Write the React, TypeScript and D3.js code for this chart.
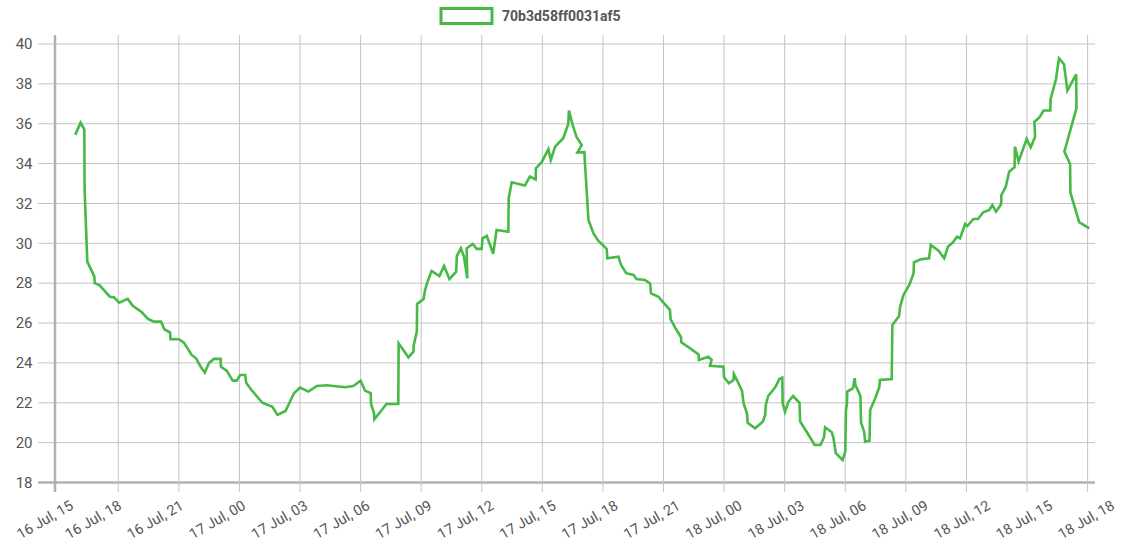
import React from "react";
import * as d3 from "d3";

const SERIES_NAME = "70b3d58ff0031af5";

// timestamps ("day HH:MM", July)
const times: string[] = [
  "16 15:52","16 16:08","16 16:19","16 16:20","16 16:28","16 16:49","16 16:50","16 17:04","16 17:35","16 17:47",
  "16 18:03","16 18:28","16 18:43","16 19:10","16 19:29","16 19:46","16 20:07","16 20:17","16 20:34","16 20:35",
  "16 21:00","16 21:15","16 21:38","16 21:51","16 22:05","16 22:17","16 22:29","16 22:44","16 23:04","16 23:05",
  "16 23:22","16 23:40","16 23:52","17 00:02","17 00:17","17 00:20","17 00:34","17 01:08","17 01:38","17 01:53",
  "17 02:17","17 02:42","17 03:00","17 03:25","17 03:50","17 04:19","17 05:14","17 05:38","17 06:00","17 06:13",
  "17 06:30","17 06:31","17 06:40","17 06:41","17 07:17","17 07:52","17 07:53","17 08:22","17 08:37","17 08:38",
  "17 08:47","17 08:48","17 09:07","17 09:11","17 09:19","17 09:31","17 09:54","17 10:08","17 10:24","17 10:44",
  "17 10:46","17 10:58","17 11:07","17 11:17","17 11:15","17 11:33","17 11:45","17 12:00","17 12:02","17 12:15",
  "17 12:34","17 12:44","17 13:19","17 13:20","17 13:29","17 14:08","17 14:23","17 14:40","17 14:41","17 14:58",
  "17 15:18","17 15:25","17 15:38","17 16:02","17 16:17","17 16:19","17 16:30","17 16:42","17 16:57","17 16:44",
  "17 17:05","17 17:06","17 17:17","17 17:32","17 17:46","17 18:11","17 18:13","17 18:46","17 18:54","17 19:09",
  "17 19:31","17 19:40","17 20:05","17 20:20","17 20:23","17 20:45","17 20:59","17 21:19","17 21:21","17 21:37",
  "17 21:52","17 21:53","17 22:19","17 22:44","17 22:45","17 23:13","17 23:23","17 23:18","17 23:58","18 00:00",
  "18 00:14","18 00:28","18 00:29","18 00:38","18 00:53","18 00:58","18 01:08","18 01:10","18 01:32","18 01:55",
  "18 02:02","18 02:04","18 02:11","18 02:32","18 02:44","18 02:53","18 02:54","18 03:01","18 03:11","18 03:25",
  "18 03:44","18 03:46","18 04:08","18 04:29","18 04:46","18 04:57","18 05:00","18 05:20","18 05:25","18 05:32",
  "18 05:52","18 06:00","18 06:02","18 06:05","18 06:06","18 06:23","18 06:28","18 06:30","18 06:45","18 06:47",
  "18 06:56","18 06:59","18 07:12","18 07:14","18 07:29","18 07:41","18 07:43","18 08:18","18 08:20","18 08:40",
  "18 08:43","18 08:53","18 09:11","18 09:23","18 09:24","18 09:44","18 10:09","18 10:14","18 10:37","18 10:54",
  "18 11:05","18 11:20","18 11:32","18 11:41","18 11:56","18 12:03","18 12:21","18 12:34","18 12:50","18 13:08",
  "18 13:17","18 13:28","18 13:43","18 13:44","18 13:57","18 14:07","18 14:23","18 14:24","18 14:35","18 14:59",
  "18 15:11","18 15:24","18 15:22","18 15:37","18 15:49","18 16:09","18 16:10","18 16:26","18 16:35","18 16:50",
  "18 17:00","18 17:26","18 17:27","18 16:51","18 17:08","18 17:09","18 17:35","18 18:05"
];

const values: number[] = [
  35.44,36.05,35.72,32.68,29.08,28.33,28.0,27.9,27.32,27.29,
  27.02,27.21,26.87,26.54,26.2,26.07,26.07,25.69,25.52,25.19,
  25.19,25.02,24.4,24.23,23.81,23.51,23.98,24.2,24.2,23.81,
  23.61,23.11,23.11,23.39,23.39,23.01,22.68,22.0,21.8,21.39,
  21.59,22.48,22.76,22.56,22.84,22.88,22.78,22.84,23.11,22.61,
  22.48,21.94,21.47,21.17,21.94,21.94,24.98,24.28,24.56,24.9,
  25.57,26.96,27.21,27.62,28.08,28.61,28.36,28.86,28.2,28.58,
  29.37,29.75,29.33,28.25,29.75,29.97,29.72,29.72,30.25,30.37,
  29.47,30.67,30.58,32.26,33.06,32.9,33.35,33.21,33.76,34.07,
  34.73,34.18,34.85,35.27,35.99,36.66,35.94,35.32,34.93,34.55,
  34.57,34.18,31.17,30.5,30.13,29.72,29.25,29.33,28.91,28.5,
  28.41,28.21,28.16,27.99,27.49,27.32,27.04,26.66,26.2,25.7,
  25.29,25.03,24.73,24.43,24.15,24.31,24.15,23.86,23.81,23.28,
  22.98,23.14,23.44,23.14,22.61,21.97,21.47,21.0,20.72,21.05,
  21.39,21.89,22.34,22.78,23.19,23.26,21.97,21.55,22.05,22.34,
  22.0,21.05,20.47,19.88,19.88,20.27,20.77,20.52,20.22,19.47,
  19.13,19.55,21.6,21.97,22.56,22.73,23.23,22.9,22.34,21.0,
  20.55,20.05,20.1,21.64,22.22,22.78,23.14,23.19,25.9,26.35,
  26.82,27.41,27.94,28.5,29.05,29.2,29.25,29.92,29.63,29.25,
  29.83,30.05,30.33,30.25,30.97,30.87,31.22,31.22,31.56,31.67,
  31.92,31.59,31.96,32.43,32.84,33.59,33.82,34.85,34.1,35.24,
  34.82,35.35,36.1,36.32,36.66,36.66,37.23,38.23,39.28,38.98,
  37.66,38.48,36.78,34.6,33.98,32.54,31.06,30.75
];

const yTicks: number[] = [18, 20, 22, 24, 26, 28, 30, 32, 34, 36, 38, 40];

const xTickTimes: string[] = [
  "16 14:52","16 18:00","16 21:00","17 00:00","17 03:00","17 06:00","17 09:00","17 12:00","17 15:00",
  "17 18:00","17 21:00","18 00:00","18 03:00","18 06:00","18 09:00","18 12:00","18 15:00","18 18:00"
];
const xLabelTimes: string[] = [
  "16 15:40","16 18:00","16 21:00","17 00:00","17 03:00","17 06:00","17 09:00","17 12:00","17 15:00",
  "17 18:00","17 21:00","18 00:00","18 03:00","18 06:00","18 09:00","18 12:00","18 15:00","18 18:00"
];
const xTickLabels: string[] = [
  "16 Jul, 15","16 Jul, 18","16 Jul, 21","17 Jul, 00","17 Jul, 03","17 Jul, 06","17 Jul, 09","17 Jul, 12","17 Jul, 15",
  "17 Jul, 18","17 Jul, 21","18 Jul, 00","18 Jul, 03","18 Jul, 06","18 Jul, 09","18 Jul, 12","18 Jul, 15","18 Jul, 18"
];
const xDomain: string[] = ["16 14:52", "18 18:22"];
const labelDomain: string[] = ["16 18:00", "18 18:00"];

const parse = (s: string) => {
  const [d, hm] = s.split(" ");
  const [h, m] = hm.split(":").map(Number);
  return new Date(2018, 6, Number(d), h, m);
};

export default function App() {
  const W = 1121, H = 547;
  const left = 55, right = 1095, top = 44, bottom = 482.5;
  const x = d3.scaleTime().domain(xDomain.map(parse)).range([left, right]);
  const xLab = d3.scaleTime().domain(labelDomain.map(parse)).range([120, 1113]);
  const y = d3.scaleLinear().domain([18, 40]).range([bottom, top]);
  const data = times.map((t, i) => ({ t: parse(t), v: values[i] }));
  const line = d3.line<{ t: Date; v: number }>().x(d => x(d.t)).y(d => y(d.v));
  const green = "#46b946";
  const grid = "#c4c4c6";
  const axisC = "#b0b0b4";
  const font = "Roboto, 'Noto Sans', sans-serif";
  return (
    <svg width={W} height={H} style={{ position: "absolute", left: 0, top: 0, display: "block" }} fontFamily={font}>
      <rect width={W} height={H} fill="#fff" />
      {yTicks.map(t => (
        <g key={"y" + t}>
          <line x1={38} x2={right} y1={y(t)} y2={y(t)} stroke={t === 18 ? axisC : grid} strokeWidth={t === 18 ? 2.5 : 1} />
          <text x={32.5} y={y(t)} dy="0.35em" textAnchor="end" fontSize={15} fill="#555">{t}</text>
        </g>
      ))}
      {xTickTimes.map((t, i) => {
        const px = x(parse(t));
        return (
          <line key={"x" + i} x1={px} x2={px} y1={35} y2={492} stroke={i === 0 ? axisC : grid} strokeWidth={i === 0 ? 2.5 : 1} />
        );
      })}
      {xLabelTimes.map((t, i) => {
        const lx = xLab(parse(t));
        return (
          <text key={"l" + i} transform={`translate(${lx},${504}) rotate(-30)`} textAnchor="end" dy="0.35em" fontSize={14.5} fill="#555">
            {xTickLabels[i]}
          </text>
        );
      })}
      <path d={line(data) || ""} fill="none" stroke={green} strokeWidth={2.6} strokeLinejoin="miter" />
      <rect x={441} y={8.5} width={51} height={15} fill="#fff" stroke={green} strokeWidth={3} />
      <text x={502} y={21} fontSize={14} fontWeight="bold" fill="#555">{SERIES_NAME}</text>
    </svg>
  );
}
